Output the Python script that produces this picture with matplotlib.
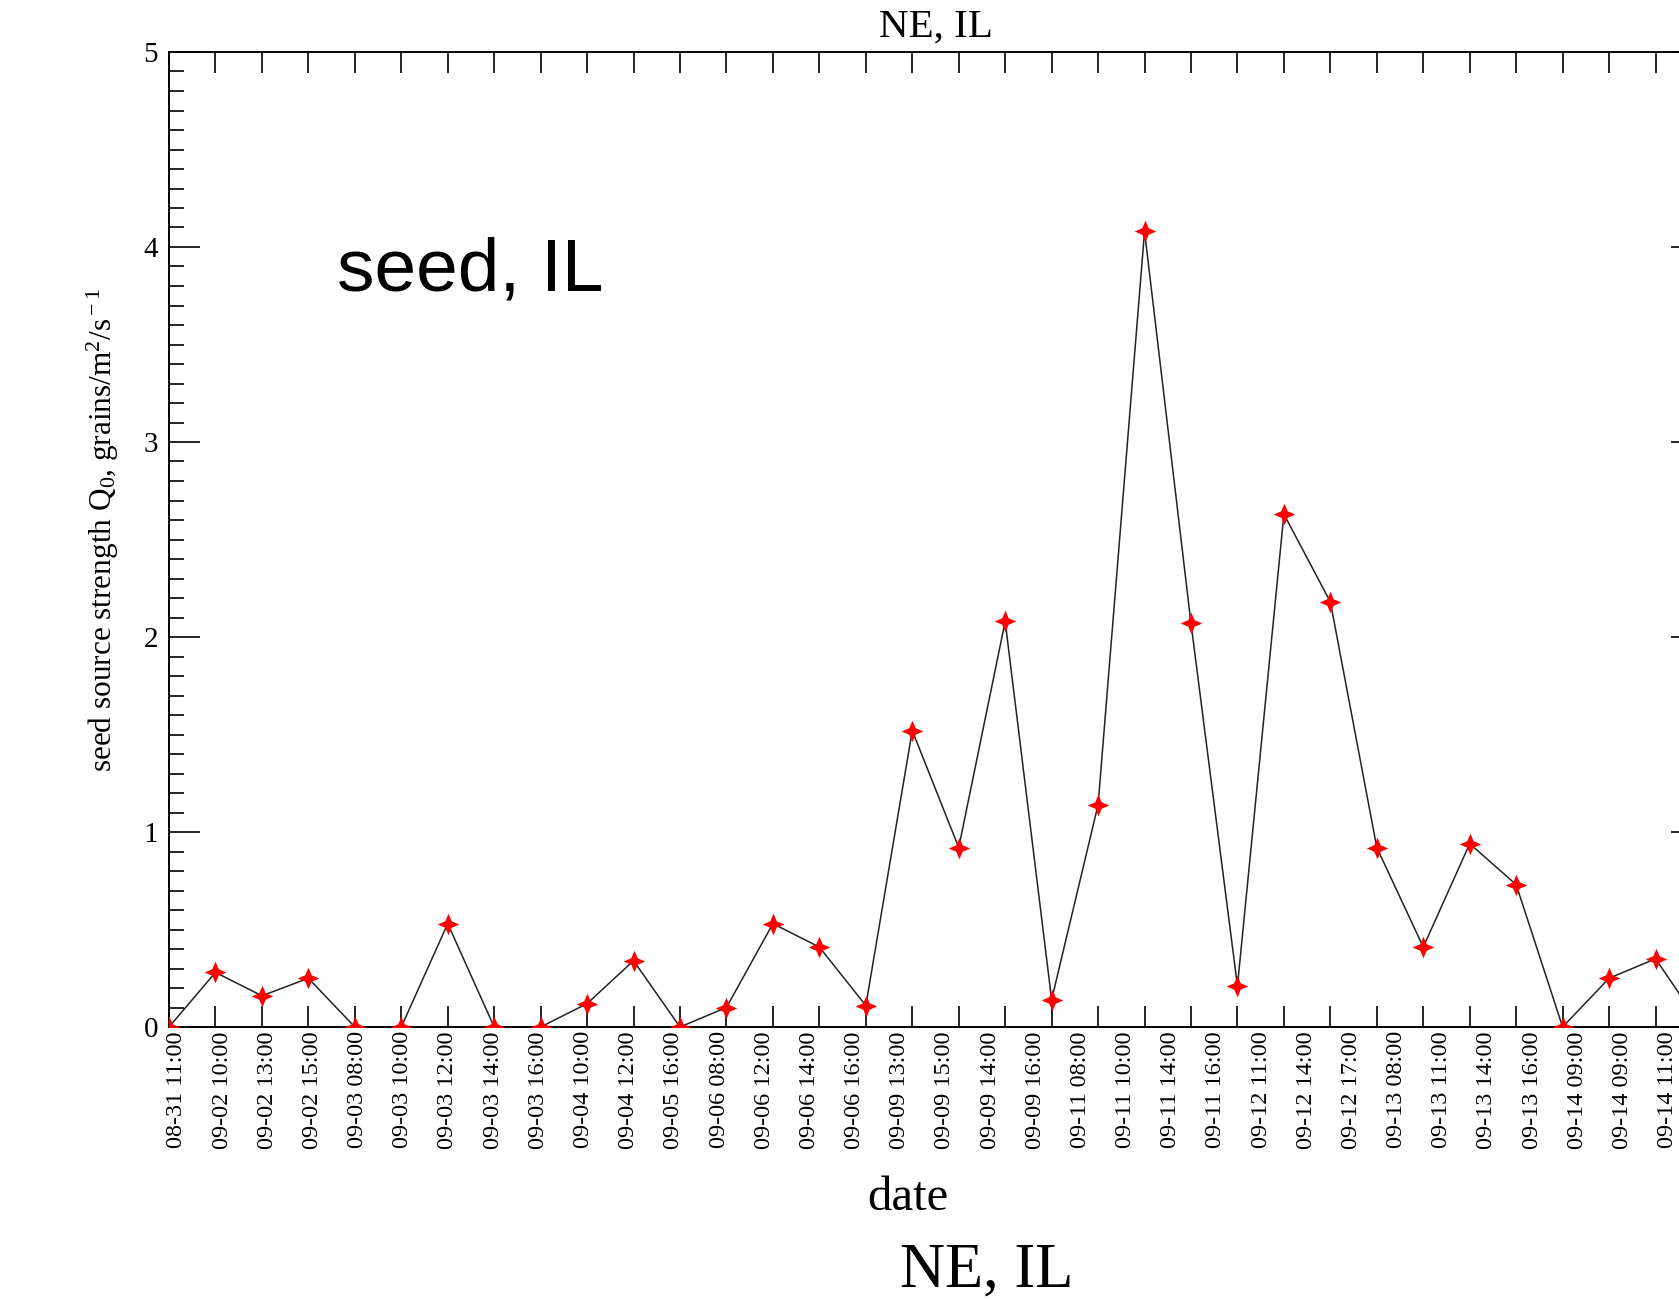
import numpy as np
import matplotlib
matplotlib.use("Agg")
import matplotlib.pyplot as plt

# dates shown under the axis (one per sample)
date_labels = ["08-31 11:00", "09-02 10:00", "09-02 13:00", "09-02 15:00",
               "09-03 08:00", "09-03 10:00", "09-03 12:00", "09-03 14:00",
               "09-03 16:00", "09-04 10:00", "09-04 12:00", "09-05 16:00",
               "09-06 08:00", "09-06 12:00", "09-06 14:00", "09-06 16:00",
               "09-09 13:00", "09-09 15:00", "09-09 14:00", "09-09 16:00",
               "09-11 08:00", "09-11 10:00", "09-11 14:00", "09-11 16:00",
               "09-12 11:00", "09-12 14:00", "09-12 17:00", "09-13 08:00",
               "09-13 11:00", "09-13 14:00", "09-13 16:00", "09-14 09:00",
               "09-14 09:00", "09-14 11:00"]

# seed source strength Q0 (grains/m2/s)
q0 = [0.0, 0.28, 0.16, 0.25, 0.0, 0.0, 0.53, 0.0,
      0.0, 0.12, 0.34, 0.0, 0.10, 0.53, 0.41, 0.11,
      1.52, 0.92, 2.08, 0.14, 1.14, 4.08, 2.07, 0.21,
      2.63, 2.18, 0.92, 0.41, 0.94, 0.73, 0.0, 0.25,
      0.35, 0.0]

serif = "Liberation Serif"
plt.rcParams["mathtext.fontset"] = "custom"
plt.rcParams["mathtext.rm"] = serif
plt.rcParams["mathtext.it"] = serif + ":italic"
W, H = 1679, 1300

fig = plt.figure(figsize=(W / 100, H / 100), dpi=100)
# axes run a little past the right edge of the picture (cropped figure)
x0, x1 = 169, 1702
ytop, ybot = 52, 1027
ax = fig.add_axes([x0 / W, 1 - ybot / H, (x1 - x0) / W, (ybot - ytop) / H])

x = np.arange(len(q0))
star = [(0, 1), (0.3, 0.3), (1, 0), (0.3, -0.3),
        (0, -1), (-0.3, -0.3), (-1, 0), (-0.3, 0.3), (0, 1)]
ax.plot(x, q0, color="#222222", lw=1.1, zorder=2)
ax.plot(x, q0, ls="none", marker=star, ms=15.5, mfc="red", mec="red",
        mew=0, zorder=3)

ax.set_xlim(0, len(q0) - 1)
ax.set_ylim(0, 5)

for s in ax.spines.values():
    s.set_linewidth(1.4)

# tick marks sit on the samples, the labels drift slightly (as in the original)
ax.set_xticks(x, minor=True)
lab_pos = 0.172 + 0.9723 * x
ax.set_xticks(lab_pos)
ax.set_xticklabels(date_labels, rotation=90, family=serif, fontsize=17.5)
ax.tick_params(axis="x", which="major", length=0, pad=3)
ax.tick_params(axis="x", which="minor", direction="in", length=15, width=1.2,
               top=True, bottom=True)

ax.set_yticks(np.arange(0, 6))
ax.set_yticks(np.arange(0, 5.01, 0.1), minor=True)
ax.tick_params(axis="y", which="major", direction="in", length=22, width=1.2,
               left=True, right=True, labelsize=21, pad=8)
ax.tick_params(axis="y", which="minor", direction="in", length=11, width=1.2,
               left=True, right=True)
for t in ax.get_yticklabels():
    t.set_family(serif)

ax.set_ylabel(r"seed source strength Q$_0$, grains/m$^2$/s$^{\rm -1}$",
              family=serif, fontsize=22.5)
ax.yaxis.set_label_coords(-0.031, 0.51)

ax.set_xlabel("date", family=serif, fontsize=35, va="baseline")
ax.xaxis.set_label_coords((908 - x0) / (x1 - x0), -(1210 - ybot) / (ybot - ytop))

ax.text(0.5003, 1.0154, "NE, IL", transform=ax.transAxes, ha="center",
        va="baseline", family=serif, fontsize=29.5)

ax.text((337 - x0) / (x1 - x0), (ybot - 291) / (ybot - ytop), "seed, IL",
        transform=ax.transAxes, ha="left", va="baseline",
        family="Liberation Sans", fontsize=54)

fig.text(987 / W, 1 - 1287 / H, "NE, IL", ha="center", va="baseline",
         family=serif, fontsize=45)

fig.savefig("out.png", dpi=100)
